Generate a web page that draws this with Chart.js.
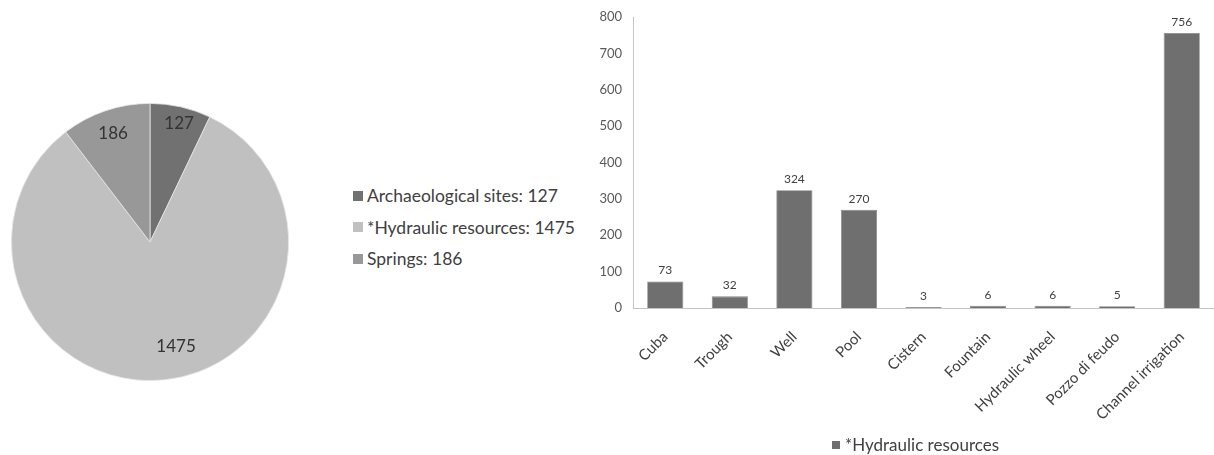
<!DOCTYPE html>
<html>
<head>
<meta charset="utf-8">
<script src="https://cdn.jsdelivr.net/npm/chart.js@4.4.1/dist/chart.umd.min.js"></script>
<style>
  html, body { margin: 0; padding: 0; background: #ffffff; }
  body { width: 1214px; height: 455px; position: relative; overflow: hidden; font-family: Lato, "Open Sans", sans-serif; }
  #pieBox { position: absolute; left: 0; top: 0; width: 300px; height: 455px; }
  #barBox { position: absolute; left: 590px; top: 0; width: 624px; height: 455px; }
  .legend { position: absolute; color: #404040; }
  .legend .item { display: flex; align-items: center; white-space: nowrap; }
  .legend .sw { display: inline-block; width: 10px; height: 10px; margin-right: 4px; }
  #pieLegend { left: 353px; top: 180px; font-size: 17.5px; }
  #pieLegend .item { height: 31.5px; }
  #barLegend { left: 832px; top: 434px; font-size: 17px; }
  #barLegend .sw { width: 8px; height: 8px; margin-right: 5px; }
</style>
</head>
<body>
<div id="pieBox"><canvas id="pie"></canvas></div>
<div id="pieLegend" class="legend"></div>
<div id="barBox"><canvas id="bar"></canvas></div>
<div id="barLegend" class="legend"></div>

<script>
// Overall census of features
const pieLabels = ['Archaeological sites', '*Hydraulic resources', 'Springs'];
const pieValues = [127, 1475, 186];
const pieColors = ['#717171', '#c0c0c0', '#989898'];

// Breakdown of the hydraulic resources by type
const barCategories = ['Cuba', 'Trough', 'Well', 'Pool', 'Cistern', 'Fountain',
                       'Hydraulic wheel', 'Pozzo di feudo', 'Channel irrigation'];
const barValues = [73, 32, 324, 270, 3, 6, 6, 5, 756];
const barSeriesName = '*Hydraulic resources';
const barColor = '#6f6f6f';
const yTicksMax = 800;
const yTicksStep = 100;

const FONT = 'Lato, "Open Sans", sans-serif';

// Value labels inside the pie slices
const pieValueLabels = {
  id: 'pieValueLabels',
  afterDatasetsDraw(chart, args, opts) {
    const ctx = chart.ctx;
    const meta = chart.getDatasetMeta(0);
    ctx.save();
    ctx.font = '17px ' + FONT;
    ctx.fillStyle = '#333333';
    ctx.textAlign = 'center';
    ctx.textBaseline = 'middle';
    meta.data.forEach((arc, i) => {
      const p = arc.getProps(['x', 'y', 'startAngle', 'endAngle', 'outerRadius'], true);
      const a = (p.startAngle + p.endAngle) / 2 + (opts.shift[i] || 0) * Math.PI / 180;
      const r = p.outerRadius * opts.factor[i];
      ctx.fillText(String(chart.data.datasets[0].data[i]), p.x + Math.cos(a) * r, p.y + Math.sin(a) * r);
    });
    ctx.restore();
  }
};

new Chart(document.getElementById('pie'), {
  type: 'pie',
  data: {
    labels: pieLabels,
    datasets: [{
      data: pieValues,
      backgroundColor: pieColors,
      borderColor: '#e6e6e6',
      borderWidth: 0.8
    }]
  },
  options: {
    responsive: true,
    maintainAspectRatio: false,
    animation: false,
    layout: { padding: { left: 11, right: 11, top: 103, bottom: 74 } },
    plugins: {
      legend: { display: false },
      tooltip: { enabled: false },
      pieValueLabels: { factor: [0.88, 0.78, 0.83], shift: [1, -8, 0] }
    }
  },
  plugins: [pieValueLabels]
});

// Legend for the pie
const pieLegend = document.getElementById('pieLegend');
pieLabels.forEach((name, i) => {
  const row = document.createElement('div');
  row.className = 'item';
  const sw = document.createElement('span');
  sw.className = 'sw';
  sw.style.background = pieColors[i];
  row.appendChild(sw);
  row.appendChild(document.createTextNode(name + ': ' + pieValues[i]));
  pieLegend.appendChild(row);
});

// Value labels above the bars
const barValueLabels = {
  id: 'barValueLabels',
  afterDatasetsDraw(chart) {
    const ctx = chart.ctx;
    const meta = chart.getDatasetMeta(0);
    ctx.save();
    ctx.font = '12px ' + FONT;
    ctx.fillStyle = '#404040';
    ctx.textAlign = 'center';
    ctx.textBaseline = 'bottom';
    meta.data.forEach((bar, i) => {
      ctx.fillText(String(chart.data.datasets[0].data[i]), bar.x, bar.y - 5);
    });
    ctx.restore();
  }
};

new Chart(document.getElementById('bar'), {
  type: 'bar',
  data: {
    labels: barCategories,
    datasets: [{
      label: barSeriesName,
      data: barValues,
      backgroundColor: barColor,
      borderColor: '#858585',
      borderWidth: 0.8,
      barPercentage: 0.56,
      categoryPercentage: 1.0
    }]
  },
  options: {
    responsive: true,
    maintainAspectRatio: false,
    animation: false,
    layout: { padding: { top: 17, right: 0, left: 0, bottom: 0 } },
    scales: {
      x: {
        grid: { display: false },
        border: { display: true, color: '#c4c4c4', width: 1 },
        ticks: {
          font: { family: FONT, size: 15 },
          color: '#404040',
          minRotation: 45,
          maxRotation: 45,
          padding: 12,
          autoSkip: false
        },
        afterFit(scale) { scale.height = 147; }
      },
      y: {
        min: 0,
        max: yTicksMax,
        grid: { display: false },
        border: { display: true, color: '#c4c4c4', width: 1 },
        ticks: {
          stepSize: yTicksStep,
          font: { family: FONT, size: 13 },
          color: '#595959',
          padding: 3
        },
        afterFit(scale) { scale.width = 43; }
      }
    },
    plugins: {
      legend: { display: false },
      tooltip: { enabled: false }
    }
  },
  plugins: [barValueLabels]
});

// Legend for the bar series
const barLegend = document.getElementById('barLegend');
(function () {
  const row = document.createElement('div');
  row.className = 'item';
  const sw = document.createElement('span');
  sw.className = 'sw';
  sw.style.background = barColor;
  row.appendChild(sw);
  row.appendChild(document.createTextNode(barSeriesName));
  barLegend.appendChild(row);
})();
</script>
</body>
</html>
